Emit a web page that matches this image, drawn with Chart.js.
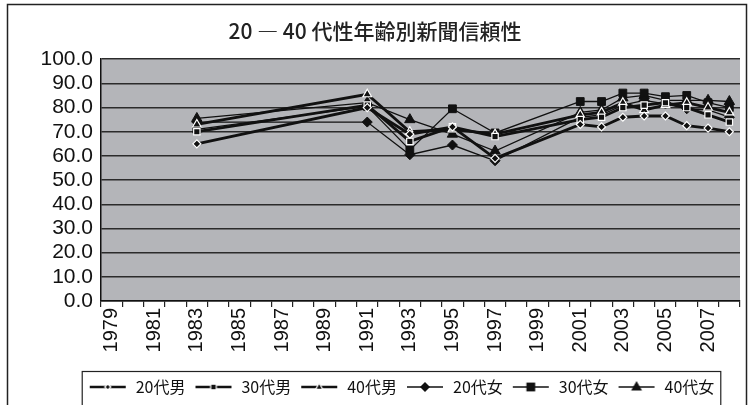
<!DOCTYPE html>
<html>
<head>
<meta charset="utf-8">
<script src="https://cdn.jsdelivr.net/npm/chart.js@4/dist/chart.umd.min.js"></script>
<style>
  html, body { margin: 0; padding: 0; background: #fff; }
  #wrap { width: 755px; height: 405px; }
</style>
</head>
<body>
<div id="wrap"><canvas id="grafico"></canvas></div>
<script>
// anni sull'asse x (tutte le categorie)
const anni = ['1979','1980','1981','1982','1983','1984','1985','1986','1987','1988',
              '1989','1990','1991','1992','1993','1994','1995','1996','1997','1998',
              '1999','2000','2001','2002','2003','2004','2005','2006','2007','2008'];

// anni in cui esiste il rilevamento
const anniRilevati = ['1983','1991','1993','1995','1997','2001','2002','2003','2004','2005','2006','2007','2008'];

// valori
const uomini20 = [65, 80, 69, 72, 59, 73, 72, 76, 76.5, 76.5, 72.5, 71.5, 70];
const uomini30 = [70, 81, 66, 72, 68, 75, 76, 80, 81, 82, 80, 77, 74];
const uomini40 = [73, 85.5, 70, 71, 69, 77, 78, 82, 79, 81, 82, 80, 78];
const donne20  = [74, 74, 60.5, 64.5, 58, 76, 77, 81, 83, 81.5, 79.5, 79, 76];
const donne30  = [71, 80.5, 62.5, 79.5, 69.5, 82.5, 82.5, 86, 86, 84.5, 85, 82, 80];
const donne40  = [75.5, 82, 75, 69, 62, 78, 79, 84, 85, 83, 83, 83, 82.5];

const etichette = ['20代男', '30代男', '40代男', '20代女', '30代女', '40代女'];
const titolo = '20 ― 40 代性年齢別新聞信頼性';

const punti = valori => valori.map((v, i) => ({ x: anniRilevati[i], y: v }));

// disegna un marcatore sul contesto
function marcatore(ctx, tipo, x, y, r, bordo) {
    ctx.beginPath();
    if (tipo === 'rombo') {
        ctx.moveTo(x, y - r); ctx.lineTo(x + r, y); ctx.lineTo(x, y + r); ctx.lineTo(x - r, y);
    } else if (tipo === 'quadrato') {
        const s = r * 0.8;
        ctx.rect(x - s, y - s, 2 * s, 2 * s);
    } else {
        ctx.moveTo(x, y - r); ctx.lineTo(x + r * 0.9, y + r * 0.6); ctx.lineTo(x - r * 0.9, y + r * 0.6);
    }
    ctx.closePath();
    ctx.fillStyle = '#111';
    ctx.fill();
    if (bordo) {
        ctx.strokeStyle = '#fff';
        ctx.lineWidth = 1.2;
        ctx.stroke();
    }
}

// icone per la legenda: linea con marcatore al centro
function icona(tipo, r, spessore, bordo) {
    const c = document.createElement('canvas');
    c.width = 38; c.height = 14;
    const ctx = c.getContext('2d');
    ctx.strokeStyle = '#111';
    ctx.lineWidth = spessore;
    ctx.beginPath(); ctx.moveTo(1, 7); ctx.lineTo(37, 7); ctx.stroke();
    marcatore(ctx, tipo, 19, 7, r, bordo);
    return c;
}

const icone = [
    icona('rombo', 3, 2.5, true),
    icona('quadrato', 3.5, 2.5, true),
    icona('triangolo', 4, 2.5, true),
    icona('rombo', 5, 1.3, false),
    icona('quadrato', 5.5, 1.3, false),
    icona('triangolo', 6, 1.3, false)
];

const serieUomo = { borderColor: '#111', backgroundColor: '#111', pointBorderColor: '#fff',
                    pointBorderWidth: 1.2, borderWidth: 2.8 };
const serieDonna = { borderColor: '#111', backgroundColor: '#111', pointBorderColor: '#111',
                     pointBorderWidth: 1, borderWidth: 1.3 };

const data = {
    labels: anni,
    datasets: [
        { label: etichette[0], data: punti(uomini20), pointStyle: 'rectRot', pointRadius: 4, ...serieUomo },
        { label: etichette[1], data: punti(uomini30), pointStyle: 'rect', pointRadius: 4.5, ...serieUomo },
        { label: etichette[2], data: punti(uomini40), pointStyle: 'triangle', pointRadius: 5, ...serieUomo },
        { label: etichette[3], data: punti(donne20), pointStyle: 'rectRot', pointRadius: 5, ...serieDonna },
        { label: etichette[4], data: punti(donne30), pointStyle: 'rect', pointRadius: 5.5, ...serieDonna },
        { label: etichette[5], data: punti(donne40), pointStyle: 'triangle', pointRadius: 6, ...serieDonna }
    ]
};

// sfondo grigio dell'area del grafico, cornice esterna e riquadro della legenda
const decorazioni = {
    id: 'decorazioni',
    afterLayout(chart) {
        chart.legend.left += 26;
        chart.legend.right += 26;
    },
    beforeDraw(chart) {
        const { ctx, chartArea: a } = chart;
        ctx.save();
        ctx.fillStyle = '#fff';
        ctx.fillRect(0, 0, chart.width, chart.height);
        ctx.fillStyle = '#b4b5b9';
        ctx.fillRect(a.left, a.top, a.right - a.left, a.bottom - a.top);
        ctx.restore();
    },
    afterDraw(chart) {
        const ctx = chart.ctx;
        ctx.save();
        ctx.strokeStyle = '#222';
        ctx.lineWidth = 1.5;
        ctx.strokeRect(7.5, 4.5, 739, 430);
        const boxes = chart.legend.legendHitBoxes;
        if (boxes && boxes.length) {
            const l = Math.min(...boxes.map(b => b.left)) - 6;
            const r = Math.max(...boxes.map(b => b.left + b.width)) + 6;
            ctx.lineWidth = 1.2;
            ctx.strokeRect(l + 0.5, chart.legend.top + 0.5, r - l, 60);
        }
        ctx.restore();
    }
};

const config = {
    type: 'line',
    data: data,
    plugins: [decorazioni],
    options: {
        responsive: true,
        maintainAspectRatio: false,
        animation: false,
        layout: { padding: { left: 10, right: 15, top: 0, bottom: 0 } },
        font: { family: '"Liberation Sans", Arial, sans-serif' },
        elements: { line: { tension: 0 } },
        plugins: {
            title: {
                display: true,
                text: titolo,
                color: '#222',
                font: { size: 21, weight: '500', family: '"Noto Sans CJK JP", sans-serif' },
                padding: { top: 18, bottom: 16 }
            },
            legend: {
                display: true,
                position: 'bottom',
                labels: {
                    usePointStyle: true,
                    pointStyleWidth: 40,
                    padding: 8,
                    color: '#111',
                    font: { size: 16, family: '"Noto Sans CJK JP", sans-serif' },
                    generateLabels: chart => chart.data.datasets.map((ds, i) => ({
                        text: ds.label,
                        pointStyle: icone[i],
                        datasetIndex: i,
                        hidden: false,
                        lineWidth: 0,
                        fontColor: '#111'
                    }))
                }
            },
            tooltip: { enabled: false }
        },
        scales: {
            x: {
                type: 'category',
                offset: true,
                grid: { drawOnChartArea: false, drawTicks: true, tickLength: 6, color: '#222', lineWidth: 1.2, offset: true },
                border: { color: '#111', width: 1.5 },
                ticks: {
                    autoSkip: false,
                    maxRotation: 90,
                    minRotation: 90,
                    padding: 1,
                    color: '#111',
                    font: { size: 20, family: '"Liberation Sans Narrow", "Liberation Sans", Arial, sans-serif' },
                    callback: function (v, i) { return i % 2 === 0 ? this.getLabelForValue(v) : ''; }
                },
                afterFit: s => { s.height = 70; }
            },
            y: {
                min: 0,
                max: 100,
                grid: { color: '#2b2b2b', lineWidth: 1.5, drawTicks: false },
                border: { color: '#111', width: 1.5 },
                ticks: {
                    autoSkip: false,
                    stepSize: 10,
                    padding: 8,
                    color: '#111',
                    font: { size: 21, family: '"Liberation Sans", Arial, sans-serif' },
                    callback: v => v.toFixed(1)
                },
                afterFit: s => { s.width = 91; }
            }
        }
    }
};

const grafico = new Chart(document.getElementById('grafico'), config);
</script>
</body>
</html>
